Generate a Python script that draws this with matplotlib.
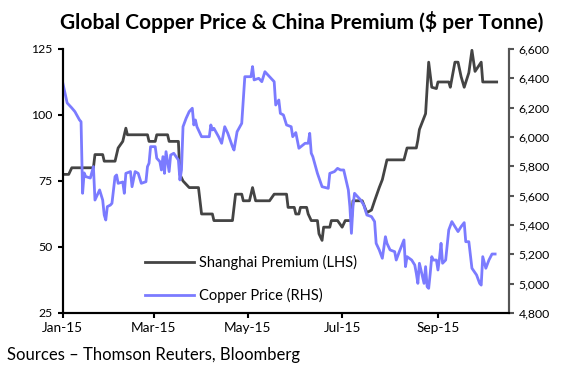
"""Global copper price vs. Shanghai premium chart."""
import matplotlib
matplotlib.use("Agg")
import matplotlib.pyplot as plt
import matplotlib.dates as mdates
import matplotlib.ticker as mticker
import pandas as pd

plt.rcParams["font.family"] = ["Lato", "DejaVu Sans"]

# Shanghai premium, $/t (LHS) - step-like quotes
premium_dates = [
    "2015-01-01", "2015-01-05", "2015-01-07", "2015-01-21", "2015-01-22", "2015-01-27",
    "2015-01-28", "2015-02-04", "2015-02-06", "2015-02-09", "2015-02-11", "2015-02-12",
    "2015-02-25", "2015-02-26", "2015-03-02", "2015-03-03", "2015-03-10", "2015-03-11",
    "2015-03-17", "2015-03-18", "2015-03-20", "2015-03-24", "2015-03-30", "2015-04-01",
    "2015-04-08", "2015-04-09", "2015-04-21", "2015-04-23", "2015-04-27", "2015-04-28",
    "2015-05-02", "2015-05-04", "2015-05-06", "2015-05-15", "2015-05-18", "2015-05-26",
    "2015-05-27", "2015-05-31", "2015-06-01", "2015-06-03", "2015-06-04", "2015-06-08",
    "2015-06-09", "2015-06-11", "2015-06-15", "2015-06-16", "2015-06-18", "2015-06-19",
    "2015-06-23", "2015-06-24", "2015-06-28", "2015-07-01", "2015-07-03", "2015-07-07",
    "2015-07-08", "2015-07-14", "2015-07-17", "2015-07-20", "2015-07-22", "2015-07-25",
    "2015-07-27", "2015-07-30", "2015-08-10", "2015-08-12", "2015-08-18", "2015-08-19",
    "2015-08-20", "2015-08-24", "2015-08-26", "2015-08-28", "2015-08-31", "2015-09-01",
    "2015-09-08", "2015-09-09", "2015-09-12", "2015-09-14", "2015-09-16", "2015-09-18",
    "2015-09-21", "2015-09-23", "2015-09-25", "2015-09-29", "2015-09-30", "2015-10-09",
]
premium_values = [
    77.5, 77.5, 80, 80, 85, 85,
    82.5, 82.5, 87.5, 90, 95, 92.5,
    92.5, 90, 90, 92.5, 92.5, 90,
    90, 77.5, 75, 72.5, 72.5, 62.5,
    62.5, 60, 60, 70, 70, 67.5,
    67.5, 72.5, 67.5, 67.5, 70, 70,
    65, 65, 62.5, 62.5, 65, 65,
    62.5, 60, 60, 55, 52.5, 57.5,
    57.5, 60, 60, 57.5, 60, 60,
    67.5, 67.5, 63, 64, 67.5, 72.5,
    75.5, 83, 83, 87.5, 87.5, 90.5,
    94.5, 100.5, 120, 110.5, 110, 112.5,
    112.5, 110.5, 120, 120, 114.5, 110.5,
    116, 124.5, 116.5, 120, 112.5, 112.5,
]

# LME copper price, $/t (RHS)
copper_dates = [
    "2015-01-01", "2015-01-04", "2015-01-07", "2015-01-09", "2015-01-12", "2015-01-13",
    "2015-01-14", "2015-01-15", "2015-01-16", "2015-01-19", "2015-01-21", "2015-01-22",
    "2015-01-25", "2015-01-27", "2015-01-28", "2015-01-29", "2015-01-30", "2015-02-01",
    "2015-02-02", "2015-02-04", "2015-02-05", "2015-02-06", "2015-02-09", "2015-02-10",
    "2015-02-11", "2015-02-14", "2015-02-15", "2015-02-17", "2015-02-19", "2015-02-21",
    "2015-02-24", "2015-02-25", "2015-02-26", "2015-02-27", "2015-03-02", "2015-03-03",
    "2015-03-05", "2015-03-06", "2015-03-07", "2015-03-08", "2015-03-09", "2015-03-11",
    "2015-03-12", "2015-03-14", "2015-03-17", "2015-03-18", "2015-03-19", "2015-03-20",
    "2015-03-22", "2015-03-24", "2015-03-26", "2015-03-27", "2015-03-28", "2015-03-29",
    "2015-04-01", "2015-04-06", "2015-04-07", "2015-04-08", "2015-04-09", "2015-04-12",
    "2015-04-14", "2015-04-16", "2015-04-18", "2015-04-21", "2015-04-22", "2015-04-24",
    "2015-04-27", "2015-04-29", "2015-05-03", "2015-05-04", "2015-05-05", "2015-05-08",
    "2015-05-10", "2015-05-12", "2015-05-15", "2015-05-18", "2015-05-19", "2015-05-21",
    "2015-05-22", "2015-05-24", "2015-05-26", "2015-05-29", "2015-05-30", "2015-06-01",
    "2015-06-03", "2015-06-07", "2015-06-09", "2015-06-10", "2015-06-11", "2015-06-12",
    "2015-06-15", "2015-06-18", "2015-06-22", "2015-06-23", "2015-06-26", "2015-06-28",
    "2015-06-30", "2015-07-02", "2015-07-05", "2015-07-06", "2015-07-07", "2015-07-08",
    "2015-07-09", "2015-07-11", "2015-07-13", "2015-07-15", "2015-07-17", "2015-07-20",
    "2015-07-22", "2015-07-23", "2015-07-25", "2015-07-27", "2015-07-29", "2015-07-30",
    "2015-08-01", "2015-08-04", "2015-08-05", "2015-08-07", "2015-08-10", "2015-08-11",
    "2015-08-12", "2015-08-15", "2015-08-17", "2015-08-18", "2015-08-19", "2015-08-20",
    "2015-08-22", "2015-08-23", "2015-08-24", "2015-08-25", "2015-08-26", "2015-08-27",
    "2015-08-28", "2015-08-29", "2015-08-31", "2015-09-01", "2015-09-02", "2015-09-03",
    "2015-09-04", "2015-09-06", "2015-09-08", "2015-09-10", "2015-09-12", "2015-09-14",
    "2015-09-16", "2015-09-18", "2015-09-19", "2015-09-21", "2015-09-23", "2015-09-26",
    "2015-09-28", "2015-09-29", "2015-09-30", "2015-10-02", "2015-10-04", "2015-10-06",
    "2015-10-08",
]
copper_values = [
    6377, 6232, 6198, 6173, 6116, 6104,
    5616, 5755, 5730, 5720, 5798, 5570,
    5639, 5570, 5468, 5434, 5525, 5536,
    5548, 5730, 5741, 5684, 5693, 5616,
    5752, 5764, 5661, 5764, 5752, 5684,
    5695, 5798, 5821, 5934, 5934, 5855,
    5832, 5775, 5866, 5752, 5900, 5764,
    5877, 5889, 5843, 5707, 5775, 6070,
    6127, 6173, 6196, 6082, 6116, 6070,
    6002, 6002, 6082, 6048, 6059, 6002,
    5957, 6070, 6025, 5934, 5911, 6036,
    6093, 6411, 6411, 6480, 6389, 6400,
    6377, 6445, 6411, 6377, 6218, 6252,
    6161, 6150, 6082, 6070, 6002, 6030,
    5923, 5957, 5957, 6025, 5889, 5866,
    5752, 5661, 5650, 5752, 5764, 5786,
    5775, 5775, 5639, 5525, 5343, 5525,
    5616, 5593, 5570, 5536, 5468, 5457,
    5423, 5275, 5230, 5173, 5320, 5275,
    5230, 5218, 5161, 5218, 5298, 5116,
    5184, 5161, 5127, 5070, 5002, 5139,
    5048, 5002, 5116, 4979, 4968, 5070,
    5184, 5161, 5161, 5093, 5173, 5275,
    5139, 5161, 5366, 5423, 5389, 5355,
    5389, 5416, 5286, 5286, 5105, 5059,
    5002, 4990, 5184, 5105, 5161, 5202,
    5202,
]

tick_dates = ["2015-01-01", "2015-03-01", "2015-05-01", "2015-07-01", "2015-09-01"]
left_ticks = [25, 50, 75, 100, 125]
right_ticks = [4800, 5000, 5200, 5400, 5600, 5800, 6000, 6200, 6400, 6600]

DARK = "#444444"
BLUE = "#7B7BFF"

fig = plt.figure(figsize=(5.81, 3.77), dpi=100)
ax = fig.add_axes([0.1076, 0.1698, 0.7685, 0.7003])
ax2 = ax.twinx()

l1, = ax.plot(pd.to_datetime(premium_dates), premium_values, color=DARK, lw=2.0,
              label="Shanghai Premium (LHS)")
l2, = ax2.plot(pd.to_datetime(copper_dates), copper_values, color=BLUE, lw=2.0,
               label="Copper Price (RHS)")

ax.set_xlim(pd.Timestamp("2015-01-01"), pd.Timestamp("2015-10-17"))
ax.set_ylim(25, 125)
ax2.set_ylim(4800, 6600)
ax.set_yticks(left_ticks)
ax2.set_yticks(right_ticks)
ax2.yaxis.set_major_formatter(mticker.FuncFormatter(lambda v, p: f"{v:,.0f}"))
ax.set_xticks(pd.to_datetime(tick_dates))
ax.xaxis.set_major_formatter(mdates.DateFormatter("%b-%y"))

for a in (ax, ax2):
    a.spines["top"].set_visible(False)
    for s in ("left", "bottom"):
        a.spines[s].set_linewidth(1.5)
        a.spines[s].set_color("black")
    a.spines["right"].set_linewidth(1.5)
    a.spines["right"].set_color("#555555")
    a.tick_params(direction="out", length=3.5, width=1.5, labelsize=8.8, colors="black")
ax2.tick_params(axis="y", colors="#555555", labelcolor="black")
ax.tick_params(axis="x", pad=3, labelsize=9.8)

ax.legend([l1, l2], [l1.get_label(), l2.get_label()], loc="lower left",
          bbox_to_anchor=(0.171, 0.015), frameon=False, fontsize=10.5,
          handlelength=3.4, handletextpad=0.35, labelspacing=1.26,
          borderaxespad=0.0)

fig.text(0.52, 0.942, "Global Copper Price & China Premium ($ per Tonne)",
         ha="center", va="center", fontsize=15, fontweight="bold")
fig.text(0.012, 0.058, "Sources \u2013 Thomson Reuters, Bloomberg",
         ha="left", va="center", fontsize=12)

fig.savefig("out.png", dpi=100)
